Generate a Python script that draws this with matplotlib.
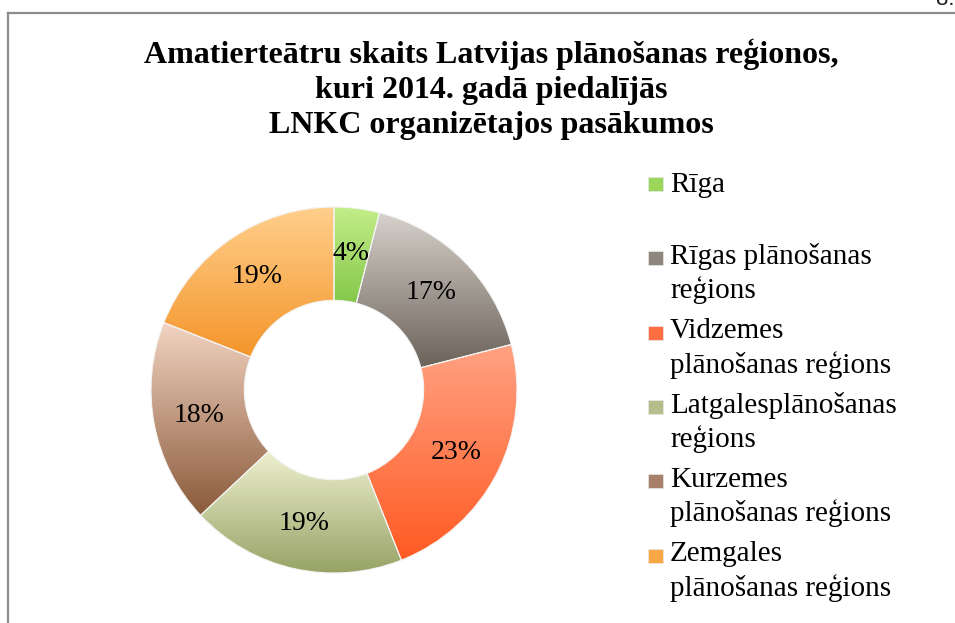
import matplotlib
matplotlib.use("Agg")
import matplotlib.pyplot as plt
import numpy as np
from matplotlib.colors import LinearSegmentedColormap
from matplotlib.lines import Line2D
from matplotlib.patches import Rectangle

# data
labels = [
    "Rīga",
    "Rīgas plānošanas\nreģions",
    "Vidzemes\nplānošanas reģions",
    "Latgalesplānošanas\nreģions",
    "Kurzemes\nplānošanas reģions",
    "Zemgales\nplānošanas reģions",
]
values = [4, 17, 23, 19, 18, 19]
title_lines = [
    "Amatierteātru skaits Latvijas plānošanas reģionos,",
    "kuri 2014. gadā piedalījās",
    "LNKC organizētajos pasākumos",
]
top_colors = ["#c4ee8a", "#d6d1cb", "#ffa283", "#eef0cf", "#f2d4c2", "#ffcf8c"]
bottom_colors = ["#84c84a", "#6b6259", "#ff5a22", "#97a366", "#8a5a3a", "#f4952a"]
mid_colors = ["#9ad75a", "#8f877e", "#ff6e42", "#b6bd8a", "#a9806a", "#f8a846"]

W, H = 955, 623
SERIF = ["Liberation Serif", "DejaVu Serif"]


def fx(x):
    return x / W


def fy(y):
    return 1 - y / H


fig = plt.figure(figsize=(W / 100, H / 100), dpi=100)
fig.patch.set_facecolor("white")

# page frame (cut off at right and bottom)
fig.add_artist(Line2D([fx(8), fx(8)], [0, fy(13)], color="#8c8c8c", lw=1.6))
fig.add_artist(Line2D([fx(8), 1], [fy(13), fy(13)], color="#8c8c8c", lw=1.6))
fig.text(fx(954), fy(5), "8.", ha="right", va="baseline", fontsize=16,
         family=["Liberation Sans", "DejaVu Sans"], color="#222222")

# title
for i, line in enumerate(title_lines):
    fig.text(fx(491), fy(63 + 35 * i), line, ha="center", va="baseline",
             fontsize=23, fontweight="bold", family=SERIF)

# donut
cx, cy, r = 334, 390, 183
ax = fig.add_axes([fx(cx - r), fy(cy + r), 2 * r / W, 2 * r / H])
wedges, texts, autotexts = ax.pie(
    values,
    startangle=90,
    counterclock=False,
    radius=1,
    autopct="%.0f%%",
    pctdistance=0.75,
    wedgeprops=dict(width=0.51, linewidth=0.8, edgecolor="#f4f4f4"),
    textprops=dict(fontsize=20, family=SERIF, color="black"),
)
grad = np.linspace(0, 1, 256).reshape(-1, 1)
for w, c0, c1 in zip(wedges, top_colors, bottom_colors):
    w.set_facecolor("none")
    w.set_zorder(3)
    ext = w.get_path().get_extents()
    cmap = LinearSegmentedColormap.from_list("g", [c0, c1])
    im = ax.imshow(grad, cmap=cmap, extent=[ext.x0, ext.x1, ext.y0, ext.y1],
                   origin="upper", aspect="auto", zorder=2, interpolation="bilinear")
    im.set_clip_path(w)
for t in autotexts:
    t.set_zorder(5)
ax.set_xlim(-1.0, 1.0)
ax.set_ylim(-1.0, 1.0)
ax.set_aspect("equal")
ax.axis("off")

# legend: marker beside the first line of each entry
line_gap = 32
for i, (lab, c) in enumerate(zip(labels, mid_colors)):
    base = 192 + 74.3 * i
    n_extra = lab.count("\n")
    fig.add_artist(Rectangle((fx(648), fy(base - 1)), 15 / W, 14 / H,
                             transform=fig.transFigure, facecolor=c,
                             edgecolor="#e8e8e8", lw=0.5))
    fig.text(fx(670), fy(base + line_gap * n_extra), lab, ha="left",
             va="baseline", fontsize=21, family=SERIF, linespacing=1.3)

fig.savefig("out.png", dpi=100)
